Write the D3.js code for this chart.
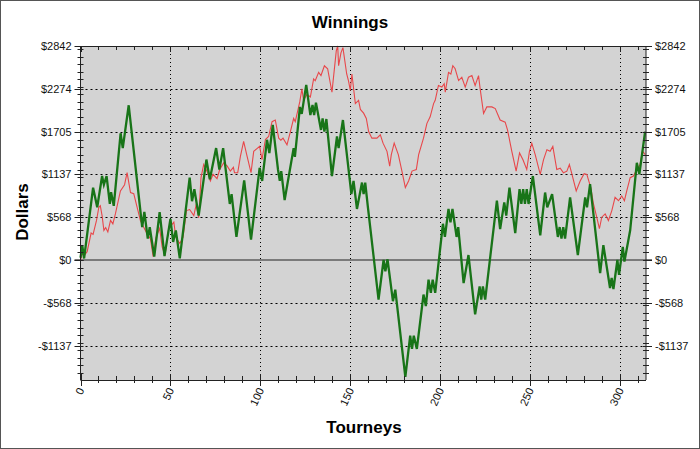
<!DOCTYPE html>
<html>
<head>
<meta charset="utf-8">
<script src="https://cdn.jsdelivr.net/npm/d3@7/dist/d3.min.js"></script>
<style>
  html, body { margin: 0; padding: 0; background: #fff; }
  text { font-family: Arial, "Liberation Sans", sans-serif; }
</style>
</head>
<body>
<svg id="chart" width="700" height="449"></svg>
<script>
// 绿色：粗线, 红色：细线
const greenT = [0, 1, 2, 7, 9.3, 12, 13, 14.5, 16.3, 17, 18.5, 22.3, 23.5, 26.8, 34.3, 35.5, 37.4, 38.5, 41, 44, 46.7, 50, 51.5, 53, 55.2,
  60.7, 62, 63.3, 65.7, 70, 71.9, 75.4, 77.2, 79.3, 83, 84, 86.7, 91, 94.8, 99.6, 101, 103.7, 105, 106.9, 109.8, 110.8, 111.6, 113.5,
  118.5, 119.2, 122, 123, 125.5, 127.8, 129, 129.9, 130.9, 133.7, 134.6, 135.6, 136.7, 139.8, 142.6, 143.5, 145.9, 150.6, 151.8, 153.7,
  156.5, 157.4, 158.3, 159.8, 165.7, 168.5, 169.5, 170.7, 173.7, 175, 180.6, 183.3, 184.3, 185.3, 187, 190.7, 192, 193.5, 194.8, 195.8,
  197.2, 201.5, 202.6, 204.6, 205.7, 206.8, 209.1, 210, 213, 215.7, 219.4, 221.9, 222.8, 223.7, 225, 231.5, 233.3, 235.6, 236.7, 238.5,
  241.7, 244.1, 245.1, 246.1, 247.1, 248.1, 249.1, 251.5, 255.6, 258.3, 259.5, 262.2, 265.4, 266.4, 267.4, 268.4, 269.4, 272.2, 276.5,
  280.6, 281.6, 283.3, 288.9, 290.7, 294.4, 295.3, 296.3, 298.5, 299.4, 301.5, 302.4, 305.6, 309.3, 310.7, 313.9]
const greenV = [30, 190, 20, 960, 700, 1115, 1000, 1115, 744, 900, 720, 1683, 1486, 2055, 437, 640, 284, 437, 44, 634, 52, 546, 240, 393, 22,
  1093, 780, 940, 590, 1334, 1071, 1486, 1202, 1486, 744, 875, 306, 1058, 271, 1224, 1050, 1596, 1421, 1793, 1202, 1050, 1180, 796,
  1486, 1370, 2033, 1940, 2326, 1924, 2060, 1924, 2090, 1727, 1880, 1705, 1872, 1115, 1640, 1486, 1859, 875, 1050, 678,
  1028, 875, 1028, 700, -525, 0, -150, 9, -547, -394, -1552, -1006, -1181, -1006, -1181, -459, -612, -262, -437, -262,
  -437, 481, 306, 678, 500, 678, 306, 437, -306, 66, -722, -350, -525, -350, -525, 787, 410, 765, 590, 962,
  358, 940, 744, 940, 744, 940, 744, 1115, 328, 896, 700, 875, 306, 437, 284, 437, 284, 831, 66,
  831, 700, 1006, -175, 197, -372, -240, -385, 0, -197, 175, -22, 394, 1290, 1137, 1705]

const redT = [0, 1, 2, 3.7, 5.9, 7, 8.9, 10.2, 11, 12, 13, 14, 15.2, 16.7, 18, 19.4, 22.2, 24.5, 25.9, 27.8, 29.6, 31.5, 33.3, 35, 37, 38.9,
  40.4, 42, 44, 45.4, 47, 49, 51.9, 53, 55.2, 57, 58.9, 60.7, 63, 64.4, 65.7, 67, 68.5, 70.3, 72.2, 73.7, 75.9, 77.4, 79.6, 81.5, 83.3,
  85, 85.6, 87.4, 88.9, 90.7, 92.6, 94.8, 96.3, 98.1, 99.6, 100.9, 102.8, 104.6, 106.5, 108.3, 110.2, 111.4, 112.6, 114.8, 116.7, 118.5,
  119.4, 121.9, 123.1, 124, 125.9, 127.8, 129.6, 130.5, 132.4, 133.7, 135.6, 137.4, 139.8, 142.2, 143, 143.5, 144.8, 145.9, 148, 149,
  150, 150.9, 152.8, 154.6, 155.6, 157.4, 158.9, 160.2, 162, 164.8, 166.7, 168.2, 170.4, 171.9, 172.8, 174.4, 176.7, 178.7, 180.6,
  182.4, 184.3, 186.7, 188, 190.7, 192.6, 194.4, 196.3, 197.2, 199, 200.9, 202.2, 202.8, 204.6, 205.9, 207, 208.3, 210.2, 212, 213.9,
  215.7, 217.6, 218.5, 219.4, 221.3, 222.2, 224.1, 225.9, 228.7, 230.6, 233.3, 236.1, 237.4, 239.8, 242.2, 244.1, 246, 248.1, 249.6,
  250.9, 252.8, 255.6, 257.4, 259.3, 261.1, 262.6, 264.8, 266.7, 268.5, 270.4, 271.8, 273, 275.6, 277.8, 280, 281.5, 283.7, 285.2,
  287, 288.5, 289.8, 291.7, 293.5, 295.4, 297.2, 299.1, 300.9, 302.4, 303.7, 305.6, 307.4, 309.3, 311, 312.5, 314]
const redV = [0, 88, 60, 110, 358, 340, 525, 700, 720, 590, 393, 430, 372, 525, 480, 612, 918, 1000, 1159, 896, 880, 700, 525, 440, 350, 280,
  44, 300, 420, 175, 60, 415, 503, 300, 219, 300, 656, 670, 590, 744, 560, 1093, 1268, 1180, 1050, 1137, 1080, 1202, 1290, 1250, 1180,
  1230, 1159, 1159, 1377, 1574, 1380, 1159, 1443, 1480, 1509, 1334, 1600, 1640, 1837, 1859, 1618, 1590, 1618, 1530, 1705, 1880,
  1837, 2099, 2273, 2120, 2200, 2164, 2405, 2380, 2492, 2450, 2580, 2540, 2230, 2777, 2842, 2580, 2750, 2820, 2470, 2380,
  2252, 2470, 2077, 2120, 2000, 1950, 1880, 1705, 1618, 1618, 1662, 1552, 1443, 1246, 1400, 1552, 1400, 1181, 962,
  1050, 1181, 1200, 1399, 1618, 1815, 1902, 2077, 2121, 2318, 2296, 2340, 2230, 2492, 2470, 2580, 2540, 2383, 2427, 2296,
  2427, 2450, 2383, 2318, 2449, 2273, 1946, 2033, 2033, 2011, 1859, 1830, 1727, 1443, 1181, 1421, 1330, 1202, 1443,
  1552, 1400, 1137, 1330, 1465, 1443, 1509, 1202, 1220, 1159, 1180, 1268, 1159, 918, 1050, 1146, 1137, 962, 744,
  568, 415, 568, 612, 525, 656, 831, 787, 850, 787, 918, 1093, 1115, 1200, 1260, 1443, 1400]

const xTicks = [0, 50, 100, 150, 200, 250, 300]
const yTicks = [-1137, -568, 0, 568, 1137, 1705, 2274, 2842]
const yTickLabels = ['-$1137', '-$568', '$0', '$568', '$1137', '$1705', '$2274', '$2842']

const svg = d3.select('#chart')
const W = 700
const H = 449
const plot = { left: 80.5, right: 646, top: 46, bottom: 380 }

const x = d3.scaleLinear().domain([0, 314.4]).range([plot.left, plot.right])
const y = d3.scaleLinear().domain([-1594, 2842]).range([plot.bottom, plot.top])

// 外框
svg.append('rect')
  .attr('x', 0.5).attr('y', 0.5)
  .attr('width', W - 1).attr('height', H - 1)
  .attr('fill', '#fff')
  .attr('stroke', '#555')

svg.append('rect')
  .attr('x', plot.left).attr('y', plot.top)
  .attr('width', plot.right - plot.left).attr('height', plot.bottom - plot.top)
  .attr('fill', '#d3d3d3')

// 网格线
const grid = svg.append('g').attr('stroke', '#000').attr('stroke-width', 1)
grid.selectAll('.gy')
  .data(yTicks.filter(d => d !== 0 && d !== 2842))
  .enter().append('line')
  .attr('x1', plot.left).attr('x2', plot.right)
  .attr('y1', d => Math.round(y(d)) + 0.5).attr('y2', d => Math.round(y(d)) + 0.5)
  .attr('stroke-dasharray', '2,3')
grid.selectAll('.gx')
  .data(xTicks.filter(d => d !== 0))
  .enter().append('line')
  .attr('x1', d => Math.round(x(d)) + 0.5).attr('x2', d => Math.round(x(d)) + 0.5)
  .attr('y1', plot.top).attr('y2', plot.bottom)
  .attr('stroke-dasharray', '1,3')

// 零线
svg.append('line')
  .attr('x1', plot.left - 6).attr('x2', plot.right + 6)
  .attr('y1', y(0)).attr('y2', y(0))
  .attr('stroke', '#7a7a7a')
  .attr('stroke-width', 2)

// 曲线
const line = d3.line()
  .x(d => x(d[0]))
  .y(d => y(d[1]))

svg.append('path')
  .datum(d3.zip(redT, redV))
  .attr('fill', 'none')
  .attr('stroke', '#e8474a')
  .attr('stroke-width', 1.1)
  .attr('d', line)

svg.append('path')
  .datum(d3.zip(greenT, greenV))
  .attr('fill', 'none')
  .attr('stroke', '#187418')
  .attr('stroke-width', 2.3)
  .attr('stroke-linejoin', 'miter')
  .attr('d', line)

// 坐标轴
const axisColor = '#222'
const minorY = d3.range(-1500, 2801, 100)
const minorX = d3.range(10, 315, 10)

function drawYAxis(xPos, side) {
  const g = svg.append('g').attr('stroke', axisColor).attr('stroke-width', 1)
  g.append('line')
    .attr('x1', xPos).attr('x2', xPos)
    .attr('y1', plot.top).attr('y2', plot.bottom)
  g.selectAll('.minor')
    .data(minorY)
    .enter().append('line')
    .attr('x1', xPos - 3).attr('x2', xPos + 3)
    .attr('y1', d => Math.round(y(d)) + 0.5).attr('y2', d => Math.round(y(d)) + 0.5)
  g.selectAll('.major')
    .data(yTicks)
    .enter().append('line')
    .attr('x1', side === 'left' ? xPos - 6 : xPos - 3)
    .attr('x2', side === 'left' ? xPos + 3 : xPos + 6)
    .attr('y1', d => Math.round(y(d)) + 0.5).attr('y2', d => Math.round(y(d)) + 0.5)
  svg.append('g').selectAll('text')
    .data(yTicks)
    .enter().append('text')
    .attr('x', side === 'left' ? xPos - 9 : xPos + 9)
    .attr('y', d => y(d) + 4)
    .attr('text-anchor', side === 'left' ? 'end' : 'start')
    .attr('font-size', 11)
    .attr('fill', '#111')
    .text((d, i) => yTickLabels[i])
}

drawYAxis(plot.left, 'left')
drawYAxis(plot.right, 'right')

const xg = svg.append('g').attr('stroke', axisColor).attr('stroke-width', 1)
xg.append('line')
  .attr('x1', plot.left).attr('x2', plot.right)
  .attr('y1', plot.bottom + 0.5).attr('y2', plot.bottom + 0.5)
xg.append('line')
  .attr('x1', plot.left).attr('x2', plot.right)
  .attr('y1', plot.top + 0.5).attr('y2', plot.top + 0.5)
xg.selectAll('.minorb')
  .data(minorX)
  .enter().append('line')
  .attr('x1', d => Math.round(x(d)) + 0.5).attr('x2', d => Math.round(x(d)) + 0.5)
  .attr('y1', plot.bottom - 4).attr('y2', plot.bottom + 3)
xg.selectAll('.minort')
  .data(minorX)
  .enter().append('line')
  .attr('x1', d => Math.round(x(d)) + 0.5).attr('x2', d => Math.round(x(d)) + 0.5)
  .attr('y1', plot.top).attr('y2', plot.top + 4)
xg.selectAll('.majorb')
  .data(xTicks)
  .enter().append('line')
  .attr('x1', d => Math.round(x(d)) + 0.5).attr('x2', d => Math.round(x(d)) + 0.5)
  .attr('y1', plot.bottom - 6).attr('y2', plot.bottom + 6)
xg.selectAll('.majort')
  .data(xTicks)
  .enter().append('line')
  .attr('x1', d => Math.round(x(d)) + 0.5).attr('x2', d => Math.round(x(d)) + 0.5)
  .attr('y1', plot.top).attr('y2', plot.top + 6)

svg.append('g').selectAll('text')
  .data(xTicks)
  .enter().append('text')
  .attr('transform', d => `translate(${x(d) + 4}, 390) rotate(-65)`)
  .attr('text-anchor', 'end')
  .attr('font-size', 11)
  .attr('fill', '#111')
  .text(d => String(d))

// 标题
svg.append('text')
  .attr('x', 350).attr('y', 28)
  .attr('text-anchor', 'middle')
  .attr('font-size', 17)
  .attr('font-weight', 'bold')
  .text('Winnings')

svg.append('text')
  .attr('x', 364).attr('y', 433)
  .attr('text-anchor', 'middle')
  .attr('font-size', 17)
  .attr('font-weight', 'bold')
  .text('Tourneys')

svg.append('text')
  .attr('transform', 'translate(28, 212) rotate(-90)')
  .attr('text-anchor', 'middle')
  .attr('font-size', 17)
  .attr('font-weight', 'bold')
  .text('Dollars')
</script>
</body>
</html>
